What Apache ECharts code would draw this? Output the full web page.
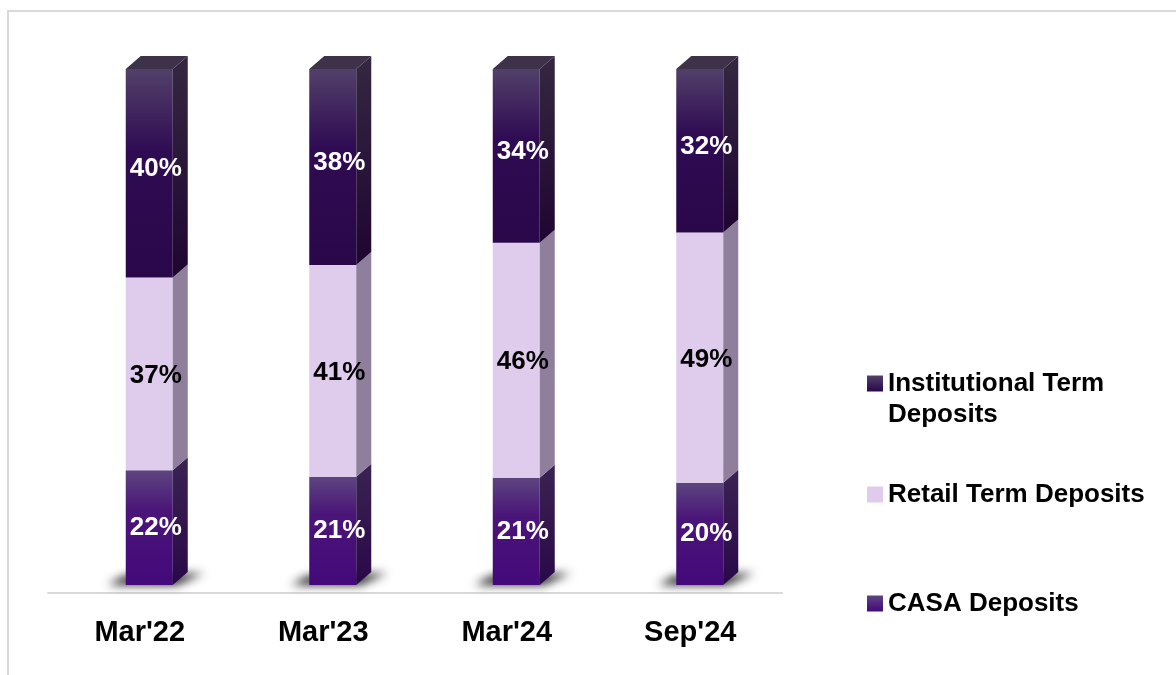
<!DOCTYPE html>
<html>
<head>
<meta charset="utf-8">
<script src="https://cdn.jsdelivr.net/npm/echarts@6/dist/echarts.min.js"></script>
<style>
  html, body { margin: 0; padding: 0; background: #ffffff; }
  #chart { width: 1176px; height: 675px; }
</style>
</head>
<body>
<div id="chart"></div>
<script>
// ---- data ----
const categories = ["Mar'22", "Mar'23", "Mar'24", "Sep'24"];
const casaDeposits = [22, 21, 21, 20];
const retailTermDeposits = [37, 41, 46, 49];
const institutionalTermDeposits = [40, 38, 34, 32];
const seriesNames = ['CASA Deposits', 'Retail Term Deposits', 'Institutional Term Deposits'];

// ---- styling ----
const FONT = '"Liberation Sans", Arial, sans-serif';
const G = echarts.graphic;
function vGrad(stops) {
  return new G.LinearGradient(0, 0, 0, 1, stops.map(s => ({ offset: s[0], color: s[1] })));
}
const styles = [
  { // CASA
    front: () => vGrad([[0, '#5d4580'], [0.35, '#4a1578'], [1, '#44097a']]),
    side: () => vGrad([[0, '#3a2352'], [1, '#2a0848']]),
    label: '#ffffff',
    legend: () => vGrad([[0, '#5d4580'], [1, '#44097a']])
  },
  { // Retail
    front: () => '#dfcbeb',
    side: () => '#8f7f9d',
    label: '#000000',
    legend: () => '#dfcbeb'
  },
  { // Institutional
    front: () => vGrad([[0, '#524069'], [0.4, '#2f0b53'], [1, '#2a0749']]),
    side: () => vGrad([[0, '#352741'], [1, '#1f0532']]),
    top: '#3d3249',
    label: '#ffffff',
    legend: () => vGrad([[0, '#524069'], [1, '#2a0749']])
  }
];

// ---- build stacked (normalised to 100) data ----
const raw = [casaDeposits, retailTermDeposits, institutionalTermDeposits];
const totals = categories.map((_, i) => raw.reduce((a, arr) => a + arr[i], 0));
const seriesData = raw.map((arr, k) => arr.map((v, i) => {
  let start = 0;
  for (let j = 0; j < k; j++) start += raw[j][i] / totals[i] * 100;
  return [i, start, start + v / totals[i] * 100, v];
}));

const DX = 15, DY = 13;
const OFF = 2000;
function makeRender(k) {
  const st = styles[k];
  return function (params, api) {
    const i = api.value(0), s = api.value(1), e = api.value(2), v = api.value(3);
    const p0 = api.coord([i, s]);
    const p1 = api.coord([i, e]);
    const cx = p0[0];
    const L = cx - 14, R = cx + 33;
    const yb = p0[1], yt = p1[1];
    const children = [];
    if (k === 0) {
      // soft floor shadow (shape drawn off-canvas, only its blurred shadow is visible)
      children.push({
        type: 'polygon',
        shape: { points: [[L - 18, yb - OFF], [L - 2, yb - 9 - OFF], [R + DX + 16, yb - 12 - OFF], [R + 4, yb - OFF]] },
        style: { fill: '#000', shadowBlur: 10, shadowOffsetY: OFF, shadowColor: 'rgba(0,0,0,0.85)' }
      });
    }
    children.push({
      type: 'rect',
      shape: { x: L, y: yt, width: R - L, height: yb - yt },
      style: { fill: st.front() }
    });
    children.push({
      type: 'polygon',
      shape: { points: [[R, yb], [R + DX, yb - DY], [R + DX, yt - DY], [R, yt]] },
      style: { fill: st.side() }
    });
    let ly = (yt + yb) / 2;
    if (k === 2) {
      children.push({
        type: 'polygon',
        shape: { points: [[L, yt], [L + DX, yt - DY], [R + DX, yt - DY], [R, yt]] },
        style: { fill: st.top }
      });
      ly -= 4;
    } else if (k === 1) {
      ly += 2;
    }
    children.push({
      type: 'text',
      x: cx + 16,
      y: ly,
      style: {
        text: v + '%',
        fill: st.label,
        font: 'bold 26px ' + FONT,
        align: 'center',
        verticalAlign: 'middle'
      }
    });
    return { type: 'group', children: children };
  };
}

const legendBase = {
  orient: 'vertical', left: 867, padding: 0, itemWidth: 16, itemHeight: 16,
  icon: 'rect', selectedMode: false
};
const legendText = { fontSize: 26, fontWeight: 'bold', color: '#000', fontFamily: FONT, lineHeight: 31 };

const chart = echarts.init(document.getElementById('chart'));
chart.setOption({
  animation: false,
  backgroundColor: '#ffffff',
  grid: { left: 48, right: 394, top: 69, bottom: 90 },
  xAxis: {
    type: 'category',
    data: categories,
    offset: 8,
    axisLine: { show: true, onZero: false, lineStyle: { color: '#d9d9d9', width: 2 } },
    axisTick: { show: false },
    axisLabel: { fontSize: 29, fontWeight: 'bold', color: '#000', fontFamily: FONT, margin: 25 }
  },
  yAxis: { type: 'value', min: 0, max: 100, show: false, splitLine: { show: false } },
  legend: [
    Object.assign({}, legendBase, {
      top: 337,
      data: [{ name: seriesNames[2], itemStyle: { color: styles[2].legend() } }],
      formatter: () => ' \nInstitutional Term\nDeposits',
      textStyle: legendText
    }),
    Object.assign({}, legendBase, {
      top: 479,
      data: [{ name: seriesNames[1], itemStyle: { color: styles[1].legend() } }],
      textStyle: legendText
    }),
    Object.assign({}, legendBase, {
      top: 588,
      data: [{ name: seriesNames[0], itemStyle: { color: styles[0].legend() } }],
      textStyle: legendText
    })
  ],
  graphic: [{
    type: 'rect',
    shape: { x: 8, y: 11, width: 1200, height: 700 },
    style: { fill: 'none', stroke: '#d9d9d9', lineWidth: 2 },
    z: -10
  }],
  series: seriesData.map((data, k) => ({
    type: 'custom',
    name: seriesNames[k],
    renderItem: makeRender(k),
    itemStyle: { color: k === 1 ? '#dfcbeb' : (k === 0 ? '#4a1578' : '#2f0b53') },
    encode: { x: 0, y: [1, 2] },
    data: data,
    z: 2 + k
  }))
});
</script>
</body>
</html>
